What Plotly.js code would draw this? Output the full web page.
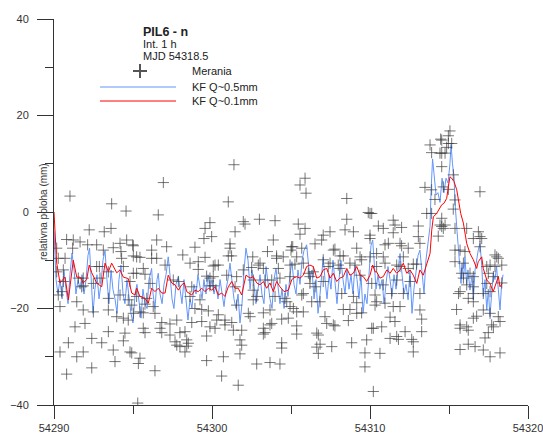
<!DOCTYPE html>
<html>
<head>
<meta charset="utf-8">
<script src="https://cdn.plot.ly/plotly-3.0.1.min.js"></script>
<style>html,body{margin:0;padding:0;background:#fff;}#chart{width:543px;height:439px;}</style>
</head>
<body>
<div id="chart"></div>
<script>
const MJD0 = 54290;
const headerLines = ["PIL6 - n", "Int. 1 h", "MJD 54318.5"];
const seriesNames = ["Merania", "KF Q~0.5mm", "KF Q~0.1mm"];
const yTitle = "relativna poloha (mm)";
const xTickVals = [54290, 54300, 54310, 54320];
const xMinorVals = [54295, 54305, 54315];
const yTickVals = [-40, -20, 0, 20, 40];
const yMinorVals = [-30, -10, 10, 30];

// Merania (measurements): time offset in days from MJD0, value in mm
const measT = [1.01,3.65,4.56,2.23,3.18,3.61,0.80,1.22,1.65,2.13,2.70,4.18,4.60,4.98,0.17,1.18,3.75,3.12,4.24,0.27,0.70,4.28,5.02,2.70,2.87,0.17,0.59,3.44,4.39,5.02,1.54,1.85,2.91,0.59,1.75,1.85,2.49,0.27,0.49,3.44,4.18,4.70,4.92,0.38,1.44,1.85,2.49,3.44,3.97,4.39,4.70,1.96,1.33,3.44,4.49,2.39,3.02,4.39,0.91,3.75,4.81,0.38,1.85,1.44,3.86,2.39,0.80,
6.92,6.60,9.87,9.56,9.98,9.49,6.50,7.13,5.02,8.92,5.23,5.44,6.18,6.18,6.50,7.03,8.15,9.13,9.56,8.61,5.65,5.23,5.76,10.08,9.13,9.66,9.87,7.55,7.87,6.08,4.81,8.72,8.61,9.24,5.23,5.87,5.76,6.28,6.39,5.02,5.44,5.65,8.92,9.35,9.77,6.82,7.34,7.77,8.72,9.35,5.65,6.71,5.76,6.82,7.34,7.97,8.29,9.66,7.66,8.40,7.77,8.40,8.50,7.97,8.29,4.92,5.44,5.34,9.66,6.39,5.30,
11.39,11.03,11.98,12.09,13.00,13.99,11.46,13.88,11.14,11.14,11.03,11.24,10.19,10.40,12.58,13.51,14.09,14.51,15.00,15.11,14.09,11.98,12.51,12.93,13.25,13.04,14.20,14.94,10.08,10.08,9.87,10.93,11.56,12.61,13.35,13.78,14.30,14.94,11.46,12.61,12.83,12.61,14.62,14.73,13.99,11.56,12.30,12.41,13.25,13.67,10.40,10.30,10.82,10.82,11.25,11.35,11.88,9.87,10.19,14.83,14.41,13.78,13.67,13.25,13.35,13.25,11.77,11.88,11.77,14.41,14.41,10.72,12.83,13.67,14.30,10.61,11.66,
15.89,15.57,15.95,18.53,19.89,20.00,18.53,15.46,15.89,15.57,17.47,18.42,18.95,17.04,20.00,16.94,15.04,15.68,16.52,17.68,17.78,18.10,18.31,19.16,19.37,19.47,20.00,15.36,15.25,15.78,17.04,17.47,17.36,17.99,18.10,18.73,19.05,19.37,16.10,16.41,16.20,16.52,16.20,17.04,15.78,15.68,18.21,18.95,16.31,16.84,19.16,19.16,19.47,18.31,18.73,15.36,15.78,14.94,15.15,17.15,17.26,17.68,17.78,18.63,15.36,15.36,20.21,16.63,16.73,19.79,16.84,16.63,16.73,17.58,18.84,19.68,19.68,20.21,
24.47,23.80,23.90,24.43,24.54,23.48,23.90,24.11,23.59,23.90,23.06,24.43,24.64,24.32,20.11,21.47,21.58,21.47,22.00,20.53,20.84,23.06,23.16,20.00,20.95,21.16,21.90,22.00,22.42,20.42,20.84,22.11,20.95,20.42,21.69,21.90,22.74,22.95,22.42,20.84,21.69,22.53,20.11,20.32,21.37,22.11,23.16,20.42,20.32,20.95,21.47,21.90,23.16,21.27,21.58,23.27,20.11,20.74,22.22,23.27,21.27,21.69,21.80,22.64,22.74,20.63,22.74,
25.06,24.96,24.96,25.17,24.54,24.85,24.54,24.75,25.27,26.96,24.64,24.96,25.38,25.27,24.54,24.75,24.54,25.38,26.12,26.86,26.96,27.07,26.54,25.38,25.70,26.01,26.96,27.91,28.02,28.12,25.38,25.91,27.39,27.60,27.91,28.34,25.80,25.91,26.33,26.54,27.49,27.81,26.12,26.54,27.39,28.34,25.70,25.60,26.54,27.17,27.60,26.22,26.54,25.48,27.17,27.60,28.12,26.54,26.75,25.70,26.12,27.70,27.81,28.23,26.22,25.70,27.49,27.28,26.22,26.65,25.70,27.17,28.23,27.60];
const measV = [3.3,1.7,0.2,-3.7,-4.1,-3.4,-5.7,-5.8,-6.2,-6.8,-6.8,-6.5,-5.8,-6.8,-7.5,-7.5,-7.4,-7.9,-8.2,-9.6,-9.6,-9.6,-9.1,-11.3,-11.3,-12.4,-12.0,-12.4,-11.3,-12.7,-13.7,-13.7,-13.7,-14.4,-15.5,-15.3,-14.8,-17.2,-16.5,-17.9,-17.2,-18.2,-19.3,-19.6,-18.6,-20.3,-20.7,-20.3,-21.7,-22.0,-22.4,-23.1,-23.8,-24.8,-25.1,-26.2,-27.1,-26.7,-27.1,-28.6,-29.0,-29.0,-29.0,-30.0,-31.0,-32.3,-33.6,
6.1,-0.6,-2.2,-3.4,-5.1,-5.5,-5.8,-7.2,-7.0,-7.3,-9.3,-9.4,-7.9,-9.6,-9.6,-11.0,-8.9,-10.3,-9.4,-10.6,-11.7,-12.7,-12.9,-11.2,-11.9,-13.3,-13.7,-14.1,-14.4,-14.8,-14.4,-15.5,-17.5,-18.2,-17.5,-17.9,-19.1,-19.6,-21.0,-21.0,-20.7,-20.9,-20.0,-20.2,-20.5,-22.9,-23.2,-22.4,-22.9,-22.7,-24.1,-24.1,-25.0,-25.0,-25.5,-25.0,-24.8,-25.7,-26.9,-26.5,-27.6,-27.8,-27.2,-27.9,-29.0,-29.2,-30.3,-31.4,-30.8,-32.9,-39.6,
9.8,2.1,-2.0,-2.5,-1.5,-1.8,-4.1,-5.8,-6.6,-7.5,-9.1,-9.1,-11.0,-11.0,-9.3,-8.2,-9.1,-9.3,-7.9,-7.2,-9.6,-12.0,-11.5,-11.0,-11.7,-10.6,-11.7,-11.0,-13.4,-15.3,-15.3,-13.1,-13.4,-14.1,-14.1,-14.1,-13.7,-13.4,-15.5,-16.2,-17.5,-18.2,-17.9,-18.6,-17.5,-19.3,-21.0,-21.7,-20.9,-20.3,-21.3,-22.4,-22.4,-23.4,-22.9,-24.5,-24.5,-23.8,-24.1,-22.0,-22.2,-23.1,-23.4,-24.1,-25.0,-25.3,-26.5,-27.6,-29.4,-27.1,-28.2,-30.0,-31.5,-31.2,-31.5,-34.0,-35.9,
7.0,5.6,3.9,2.8,-0.1,-0.3,-1.5,-2.5,-3.4,-4.6,-4.1,-3.7,-4.1,-4.8,-5.5,-5.8,-7.2,-7.5,-6.6,-7.9,-7.7,-9.1,-9.1,-7.5,-9.3,-9.9,-9.3,-9.3,-10.8,-10.6,-9.9,-10.6,-11.3,-11.0,-11.7,-10.6,-11.0,-13.1,-12.7,-12.4,-13.4,-15.5,-14.8,-14.4,-16.9,-17.2,-16.9,-17.5,-18.6,-18.6,-18.8,-21.0,-20.9,-20.2,-20.2,-20.7,-20.7,-19.6,-20.0,-21.7,-23.1,-23.4,-23.6,-22.5,-23.6,-25.3,-24.1,-25.1,-25.5,-26.5,-27.4,-28.0,-29.3,-27.9,-27.1,-29.2,-32.1,-37.2,
15.1,13.9,12.3,12.2,9.4,5.1,4.6,2.6,-0.3,-0.3,-2.9,-2.7,-3.4,-5.0,-0.3,-1.7,-2.7,-4.3,-3.2,-2.9,-3.4,-5.1,-6.5,-4.8,-6.8,-6.5,-6.5,-7.0,-7.5,-8.6,-9.3,-9.3,-10.6,-11.3,-11.0,-11.3,-10.8,-10.8,-11.7,-15.1,-14.1,-14.4,-14.8,-17.2,-16.9,-16.9,-16.9,-18.6,-19.3,-18.9,-19.6,-19.6,-20.3,-21.8,-22.7,-22.2,-24.1,-23.8,-24.8,-24.8,-26.2,-25.8,-26.4,-26.4,-26.9,-29.3,-29.0,
16.8,15.8,14.2,14.2,14.9,13.4,12.2,12.2,7.7,4.2,5.2,4.7,2.5,0.6,-1.3,-2.7,-3.0,-3.4,-3.4,-4.1,-5.1,-5.5,-5.5,-7.9,-7.9,-8.2,-7.2,-8.9,-9.3,-9.6,-10.3,-10.6,-11.3,-11.0,-11.3,-11.0,-12.7,-13.7,-12.7,-13.4,-12.7,-13.4,-15.1,-15.5,-14.8,-14.7,-16.5,-16.9,-16.9,-16.9,-16.5,-17.9,-18.6,-20.2,-20.3,-21.0,-21.7,-22.0,-21.6,-23.4,-23.8,-23.4,-23.8,-22.7,-24.5,-24.1,-25.0,-26.1,-27.4,-27.9,-28.5,-28.6,-29.2,-30.0];

// KF Q~0.5mm (blue)
const kf05T = [0,0.13,0.25,0.38,0.51,0.63,0.76,0.89,1.01,1.14,1.27,1.39,1.52,1.65,1.77,1.90,2.03,2.15,2.25,2.34,2.47,2.59,2.72,2.85,2.97,3.10,3.23,3.35,3.48,3.61,3.73,3.86,3.99,4.11,4.24,4.37,4.49,4.62,4.75,4.87,5.00,5.13,5.25,5.38,5.51,5.63,5.76,5.89,6.01,6.18,6.27,6.39,6.52,6.60,6.71,6.84,6.96,7.09,7.23,7.34,7.47,7.59,7.72,7.87,7.97,8.10,8.23,8.35,8.48,8.61,8.73,8.86,8.99,9.11,9.24,9.37,9.49,9.62,9.75,9.87,10.00,10.13,10.25,10.38,10.51,10.63,10.76,10.89,11.01,11.14,11.27,11.39,11.52,11.65,11.77,11.90,12.03,12.15,12.28,12.41,12.53,12.66,12.78,12.91,13.04,13.16,13.29,13.42,13.54,13.67,13.80,13.92,14.05,14.18,14.30,14.43,14.56,14.68,14.81,14.94,15.06,15.19,15.32,15.44,15.57,15.70,15.82,15.99,16.08,16.20,16.33,16.46,16.58,16.71,16.84,16.96,17.04,17.15,17.28,17.41,17.53,17.66,17.78,17.91,18.04,18.16,18.29,18.42,18.54,18.67,18.80,18.92,19.05,19.18,19.30,19.43,19.56,19.68,19.81,19.94,20.06,20.17,20.25,20.38,20.51,20.63,20.76,20.89,21.01,21.14,21.27,21.39,21.52,21.65,21.77,21.90,22.03,22.15,22.28,22.41,22.53,22.66,22.78,22.91,23.04,23.16,23.29,23.42,23.54,23.67,23.80,23.86,23.96,24.05,24.18,24.30,24.43,24.56,24.68,24.81,24.94,25.06,25.13,25.22,25.32,25.38,25.44,25.51,25.57,25.63,25.70,25.76,25.82,25.92,26.01,26.12,26.20,26.33,26.46,26.54,26.65,26.85,26.96,27.07,27.17,27.28,27.39,27.49,27.59,27.70,27.80,27.91,28.01,28.12,28.23,28.33,28.42];
const kf05V = [-4,-14,-17,-14,-18,-12,-16,-19,-13,-8.5,-12,-17,-14,-16,-13,-17,-14,-9,-7.5,-14,-21,-16,-13,-18,-15,-10,-8,-14,-19,-12,-16,-18,-21,-14,-11,-17,-19,-14,-18,-21,-23,-17,-15,-19,-22,-16,-19,-20,-14,-11.7,-17,-20,-14,-12.7,-17,-19,-15,-13,-9.3,-13,-18,-20,-15,-13.4,-16,-19,-14,-18,-22.4,-18,-20,-15,-17,-13,-16,-18,-14,-17,-13,-16,-14,-17,-15,-18,-14,-17,-19.6,-16,-14,-10.6,-14,-18,-20,-17,-23,-19,-12,-7.5,-10,-16,-12,-15,-19,-16,-13,-17,-19,-11.3,-15,-18,-20,-14,-11.7,-15,-19,-16,-20,-15,-17.5,-13,-10.3,-15,-17,-12,-15,-10,-8,-6.8,-10,-14,-12,-18,-14,-21,-17,-12,-9.3,-14,-18,-13,-16,-10,-15,-19,-14,-10,-14,-17,-12,-16,-13,-17,-11,-14,-18,-13,-21,-17,-19,-12,-7,-5.8,-10,-16,-13,-16,-14,-19,-15,-11.3,-14,-17.5,-13,-16,-12,-8.6,-13,-17,-15,-18.2,-12,-21,-16,-12.7,-9,-7.9,-12,-16.9,-10,-6,-3,4,11,8,3.5,4,2,7,4,7,6,10,14,10,7.3,2,-1.7,-4,-6.5,-10,-12,-14.8,-10.6,-14,-9.3,-15,-12,-16.2,-13,-18.2,-12,-7.9,-6.5,-11,-17.5,-14,-20.3,-16,-21.7,-17,-12.7,-14,-11.3,-16,-20.3,-15,-13];

// KF Q~0.1mm (red)
const kf01T = [0,0.17,0.38,0.70,0.91,1.22,1.44,1.65,1.85,2.07,2.23,2.39,2.70,3.02,3.23,3.44,3.65,3.97,4.18,4.39,4.70,4.92,5.13,5.23,5.44,5.76,5.97,6.18,6.39,6.60,6.82,7.03,7.23,7.45,7.66,7.87,8.08,8.25,8.40,8.72,8.92,9.13,9.35,9.56,9.77,9.98,10.19,10.40,10.61,10.82,11.03,11.25,11.46,11.66,11.88,12.15,12.41,12.61,12.83,13.04,13.25,13.46,13.67,13.88,14.09,14.30,14.56,14.83,14.94,15.04,15.15,15.36,15.57,15.78,15.99,16.20,16.41,16.63,16.84,17.04,17.26,17.47,17.68,17.89,18.10,18.31,18.53,18.73,18.94,19.16,19.37,19.58,19.79,20.00,20.17,20.32,20.42,20.63,20.84,21.06,21.27,21.47,21.69,21.90,22.11,22.32,22.53,22.74,22.96,23.16,23.37,23.59,23.80,23.91,24.01,24.22,24.43,24.54,24.68,24.85,24.96,25.06,25.17,25.32,25.49,25.59,25.74,25.91,26.01,26.12,26.33,26.54,26.75,26.85,27.07,27.17,27.39,27.59,27.80,27.97,28.12,28.23,28.37];
const kf01V = [0,-10.6,-14.7,-13.5,-18.2,-10,-13.5,-13.5,-14.7,-14,-11,-12.6,-14.7,-15.5,-10.6,-12.4,-10.6,-12.6,-12,-13.5,-13.8,-16.8,-17.2,-15.8,-17.5,-17.9,-18.9,-15.8,-16.5,-15.8,-16.8,-16.8,-13.1,-14.7,-15.1,-16.2,-15.1,-14.7,-16.5,-17.2,-16.2,-16.5,-15.8,-16.5,-15.8,-16.2,-15.5,-17.2,-16.8,-17.5,-15.5,-14.4,-15.8,-15.8,-17.2,-13.1,-13.7,-13.4,-14.7,-15.1,-14.4,-15.8,-14.7,-16.5,-14.4,-15.5,-16.5,-16.2,-15.1,-14.1,-13.7,-13.4,-13.7,-13.1,-11.3,-11,-11.3,-13.7,-13.4,-12,-11.7,-13.7,-12.7,-14.4,-13.7,-13.4,-11.7,-13.1,-12.7,-11.3,-13.1,-13.4,-14.4,-13.1,-11,-12.4,-12.4,-13.7,-13.4,-12,-12.7,-11.7,-12.7,-12,-10.6,-12.7,-12,-13.1,-14.8,-12,-13.1,-11,-8.6,-3.7,-1,-0.3,0.8,1.5,1.8,2.8,5.2,7.3,7,6.3,4.6,2.5,-0.3,-2.3,-4.4,-6.5,-8.6,-9.9,-11.7,-10.3,-9.3,-11.7,-14.1,-14.8,-16.5,-14.8,-13.4,-15.5,-14.8];

const toMJD = arr => arr.map(t => MJD0 + t);

const traces = [
  {x: toMJD(kf05T), y: kf05V, type: 'scatter', mode: 'lines', name: seriesNames[1],
   line: {color: 'rgb(100,150,250)', width: 1}, showlegend: false, hoverinfo: 'skip'},
  {x: toMJD(measT), y: measV, type: 'scatter', mode: 'markers', name: seriesNames[0],
   marker: {symbol: 'cross-thin', size: 8, line: {width: 1, color: 'rgba(60,60,60,0.7)'}}, showlegend: false, hoverinfo: 'skip'},
  {x: toMJD(kf01T), y: kf01V, type: 'scatter', mode: 'lines', name: seriesNames[2],
   line: {color: 'rgb(255,0,0)', width: 1}, showlegend: false, hoverinfo: 'skip'}
];

// pixel helpers for legend placement (plot area: x 54..528, y 19..405)
const PL = 54, PW = 474, PT = 19, PH = 386;
const px = v => (v - PL) / PW;
const py = v => (PT + PH - v) / PH;
const font = 'Liberation Sans, Arial, sans-serif';

const annotations = [
  {text: '<b>' + headerLines[0] + '</b>', x: px(141), y: py(32), font: {size: 12.5}},
  {text: headerLines[1], x: px(141), y: py(44), font: {size: 11}},
  {text: headerLines[2], x: px(141), y: py(56), font: {size: 11}},
  {text: seriesNames[0], x: px(190), y: py(71), font: {size: 11}},
  {text: seriesNames[1], x: px(190), y: py(87), font: {size: 11}},
  {text: seriesNames[2], x: px(190), y: py(101), font: {size: 11}}
].map(a => Object.assign({xref: 'paper', yref: 'paper', xanchor: 'left', yanchor: 'middle', showarrow: false}, a,
   {font: Object.assign({family: font, color: '#222'}, a.font)}));

annotations.push({text: yTitle, xref: 'paper', yref: 'paper', x: px(43), y: 0.5, xanchor: 'center', yanchor: 'middle',
  textangle: -90, showarrow: false, font: {family: font, size: 10, color: '#333'}});

const shapes = [
  {type: 'line', xref: 'paper', yref: 'paper', x0: px(100), x1: px(176), y0: py(87), y1: py(87), line: {color: 'rgb(100,150,250)', width: 1}},
  {type: 'line', xref: 'paper', yref: 'paper', x0: px(100), x1: px(176), y0: py(101), y1: py(101), line: {color: 'rgb(255,0,0)', width: 1}},
  {type: 'line', xref: 'paper', yref: 'paper', x0: px(133), x1: px(147), y0: py(71), y1: py(71), line: {color: '#555', width: 2}},
  {type: 'line', xref: 'paper', yref: 'paper', x0: px(140), x1: px(140), y0: py(64), y1: py(78), line: {color: '#555', width: 2}}
];

const layout = {
  width: 543, height: 439,
  margin: {l: PL, r: 543 - PL - PW, t: PT, b: 439 - PT - PH, pad: 0},
  paper_bgcolor: '#fff', plot_bgcolor: '#fff',
  showlegend: false,
  font: {family: font, size: 11, color: '#333'},
  xaxis: {range: [54290, 54320], tickvals: xTickVals, tickformat: 'd', ticks: 'outside', ticklen: 13, tickwidth: 1, tickcolor: '#333',
    showline: true, linecolor: '#333', linewidth: 1, showgrid: false, zeroline: false,
    ticklabeloverflow: 'allow',
    minor: {tickvals: xMinorVals, ticks: 'outside', ticklen: 8, tickcolor: '#333', showgrid: false},
    tickfont: {family: font, size: 11, color: '#333'}},
  yaxis: {range: [-40, 40], tickvals: yTickVals, ticks: 'outside', ticklen: 16, tickwidth: 1, tickcolor: '#333',
    showline: true, linecolor: '#333', linewidth: 1, showgrid: false, zeroline: false,
    minor: {tickvals: yMinorVals, ticks: 'outside', ticklen: 8, tickcolor: '#333', showgrid: false},
    ticklabelstandoff: 6,
    tickfont: {family: font, size: 11, color: '#333'}},
  annotations: annotations,
  shapes: shapes
};

Plotly.newPlot('chart', traces, layout, {staticPlot: true, displayModeBar: false});
</script>
</body>
</html>
